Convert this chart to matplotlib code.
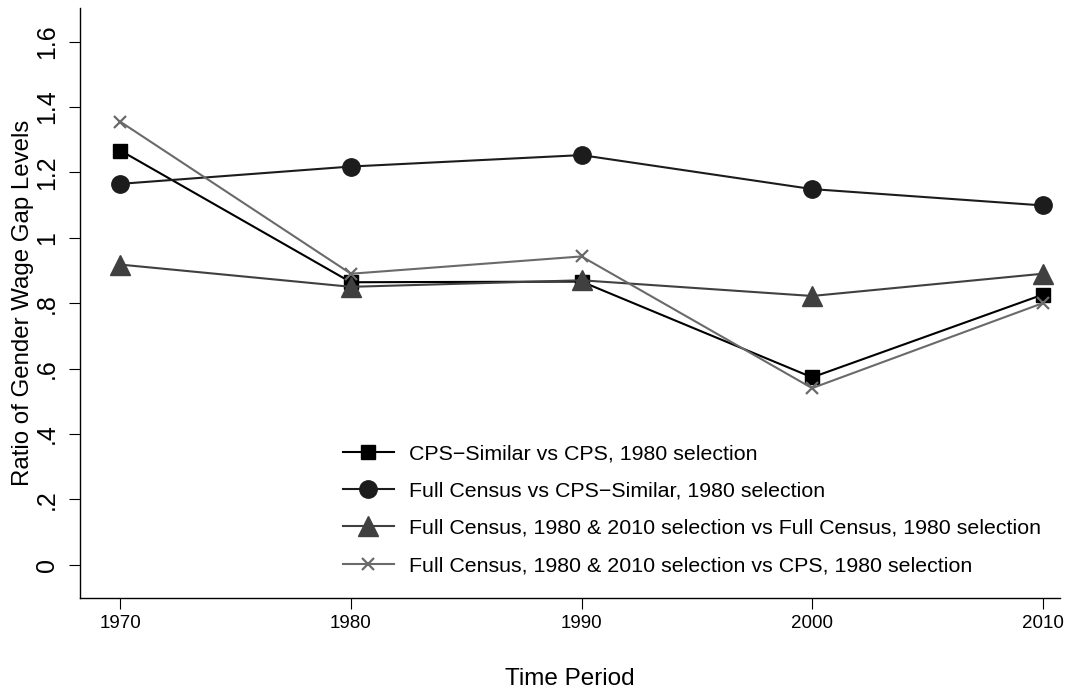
import matplotlib.pyplot as plt

plt.rcParams['font.family'] = ['Liberation Sans', 'DejaVu Sans']

years = [1970, 1980, 1990, 2000, 2010]
cps_similar_vs_cps = [1.267, 0.864, 0.866, 0.573, 0.826]
census_vs_cps_similar = [1.165, 1.218, 1.253, 1.149, 1.099]
census_8010_vs_census_80 = [0.918, 0.850, 0.870, 0.822, 0.890]
census_8010_vs_cps_80 = [1.355, 0.890, 0.943, 0.540, 0.800]

ytick_vals = [0, 0.2, 0.4, 0.6, 0.8, 1.0, 1.2, 1.4, 1.6]
ytick_labels = ['0', '.2', '.4', '.6', '.8', '1', '1.2', '1.4', '1.6']

fig = plt.figure(figsize=(10.74, 6.89), dpi=100)
ax = fig.add_axes([80 / 1074, 1 - 598 / 689, 980 / 1074, 590 / 689])

ax.plot(years, cps_similar_vs_cps, color='black', lw=1.5, marker='s', ms=9.5,
        label='CPS\u2212Similar vs CPS, 1980 selection')
ax.plot(years, census_vs_cps_similar, color='#1c1c1c', lw=1.5, marker='o', ms=12.5,
        label='Full Census vs CPS\u2212Similar, 1980 selection')
ax.plot(years, census_8010_vs_census_80, color='#404040', lw=1.5, marker='^', ms=14,
        label='Full Census, 1980 & 2010 selection vs Full Census, 1980 selection')
ax.plot(years, census_8010_vs_cps_80, color='#6a6a6a', lw=1.5, marker='x', ms=9, mew=1.6,
        label='Full Census, 1980 & 2010 selection vs CPS, 1980 selection')

ax.set_xlim(1968.25, 2010.75)
ax.set_ylim(-0.102, 1.703)
ax.set_xticks(years)
ax.set_yticks(ytick_vals)
ax.set_yticklabels(ytick_labels, rotation=90, va='center')
ax.tick_params(axis='both', length=8, width=0.8, direction='out')
ax.tick_params(axis='y', labelsize=18, pad=7)
ax.tick_params(axis='x', labelsize=13.5, pad=4)

for side in ['top', 'right']:
    ax.spines[side].set_visible(False)
for side in ['left', 'bottom']:
    ax.spines[side].set_linewidth(1.0)

ax.set_ylabel('Ratio of Gender Wage Gap Levels', fontsize=17.3, labelpad=1)
ax.set_xlabel('Time Period', fontsize=17.5, labelpad=26)

ax.legend(loc='upper left', bbox_to_anchor=(254 / 980, 1 - 428 / 590), frameon=False,
          fontsize=15.4, handlelength=2.4, labelspacing=0.85, borderaxespad=0,
          handletextpad=0.7)

fig.savefig('out.png', dpi=100)
